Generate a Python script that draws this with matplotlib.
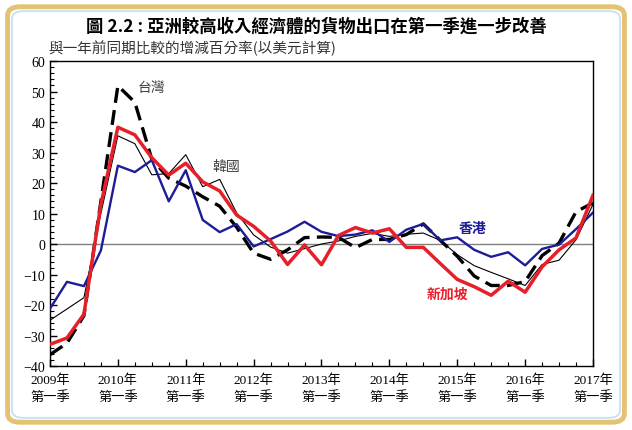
import matplotlib
matplotlib.use("Agg")
import matplotlib.pyplot as plt
from matplotlib.patches import FancyBboxPatch
from matplotlib.ticker import MultipleLocator
import numpy as np

# quarters 2009Q1 .. 2017Q1
years = [str(y) for y in range(2009, 2018)]
hong_kong = [-21.2, -12.4, -13.8, -2.1, 25.7, 23.6, 27.5, 14.0, 24.2, 7.9, 3.9, 6.5,
             -0.8, 1.6, 4.1, 7.3, 4.0, 2.6, 3.1, 4.5, 0.7, 4.7, 6.6, 1.2,
             2.2, -1.9, -4.2, -2.7, -7.0, -1.6, -0.2, 4.9, 10.3]
singapore = [-32.9, -30.8, -23.0, 13.0, 38.3, 35.8, 28.3, 22.6, 26.5, 20.4, 17.4, 9.5,
             5.8, 1.0, -6.7, -0.3, -6.8, 2.8, 5.4, 3.6, 5.0, -1.1, -1.1, -6.4,
             -11.6, -14.0, -16.8, -12.2, -15.8, -7.5, -1.9, 2.0, 16.0]
taiwan = [-36.3, -32.5, -23.5, 14.0, 51.9, 46.5, 27.8, 21.6, 19.0, 15.5, 12.4, 5.5,
          -3.0, -5.0, -1.9, 2.1, 2.3, 2.2, -1.2, 1.5, 1.5, 3.1, 6.6, 1.2,
          -4.0, -10.5, -13.6, -13.6, -12.3, -3.8, 0.3, 10.6, 13.5]
korea = [-25.0, -21.3, -17.6, 10.0, 35.5, 32.9, 22.7, 23.1, 29.3, 18.8, 21.2, 10.2,
         3.0, -1.0, -3.0, -1.5, 0.0, 1.0, 2.5, 3.5, 2.5, 3.2, 3.6, 1.2,
         -3.5, -7.1, -9.3, -11.4, -13.6, -6.7, -5.3, 1.4, 13.0]

x = np.arange(len(hong_kong))

serif = ['Liberation Serif', 'Noto Sans CJK TC']
cjk = ['Noto Sans CJK TC', 'DejaVu Sans']

fig = plt.figure(figsize=(6.32, 4.31), dpi=100)
fig.patch.set_facecolor('white')

# rounded frame, behind everything
frame = FancyBboxPatch((0.012, 0.018), 0.976, 0.964, boxstyle="round,pad=0,rounding_size=0.02",
                       transform=fig.transFigure, facecolor='white', edgecolor='#e3c274',
                       linewidth=3.5, zorder=-10)
inner = FancyBboxPatch((0.019, 0.028), 0.962, 0.944, boxstyle="round,pad=0,rounding_size=0.018",
                       transform=fig.transFigure, facecolor='none', edgecolor='#cfe4ef',
                       linewidth=1.5, zorder=-9)
fig.add_artist(frame)
fig.add_artist(inner)

ax = fig.add_axes([0.0791, 0.1485, 0.8592, 0.7075])
ax.set_zorder(1)
ax.set_facecolor('none')

ax.axhline(0, color='#808080', linewidth=1.0, zorder=1)
ax.plot(x, korea, color='black', linewidth=0.8, zorder=2)
ax.plot(x, taiwan, color='black', linewidth=2.4, dashes=(4.5, 2.2), zorder=3)
ax.plot(x, hong_kong, color='#1c1c96', linewidth=1.7, zorder=4)
ax.plot(x, singapore, color='#e5202a', linewidth=2.5, zorder=5)

ax.set_xlim(0, 32)
ax.set_ylim(-40, 60)
ax.yaxis.set_major_locator(MultipleLocator(10))
ax.yaxis.set_minor_locator(MultipleLocator(2))
ax.set_xticks(np.arange(0, 33, 4))
ax.set_xticklabels([y + '年\n第一季' for y in years], family=serif, fontsize=9.5, linespacing=1.5)
ax.xaxis.set_minor_locator(MultipleLocator(1))
for lab in ax.get_yticklabels():
    lab.set_family(serif)
    lab.set_fontsize(10)
ax.tick_params(axis='both', which='major', direction='in', length=5, width=1.0)
ax.tick_params(axis='both', which='minor', direction='in', length=3, width=0.8)
ax.tick_params(axis='x', pad=5)
for s in ax.spines.values():
    s.set_linewidth(1.0)

ax.text(6.0, 51.5, '台灣', family=cjk, fontsize=10, color='#444444', ha='center', va='center')
ax.text(10.4, 25.6, '韓國', family=cjk, fontsize=10, color='#444444', ha='center', va='center')
ax.text(24.9, 5.2, '香港', family=cjk, fontsize=10, color='#1c1c96', fontweight='bold', ha='center', va='center')
ax.text(23.4, -16.4, '新加坡', family=cjk, fontsize=10, color='#e5202a', fontweight='bold', ha='center', va='center')

fig.text(0.5, 0.938, '圖 2.2 : 亞洲較高收入經濟體的貨物出口在第一季進一步改善', family=cjk,
         fontsize=12.5, fontweight='bold', ha='center', va='center')
fig.text(0.076, 0.887, '與一年前同期比較的增減百分率(以美元計算)', family=cjk,
         fontsize=10.5, color='#333333', ha='left', va='center')

fig.savefig('out.png', dpi=100)
